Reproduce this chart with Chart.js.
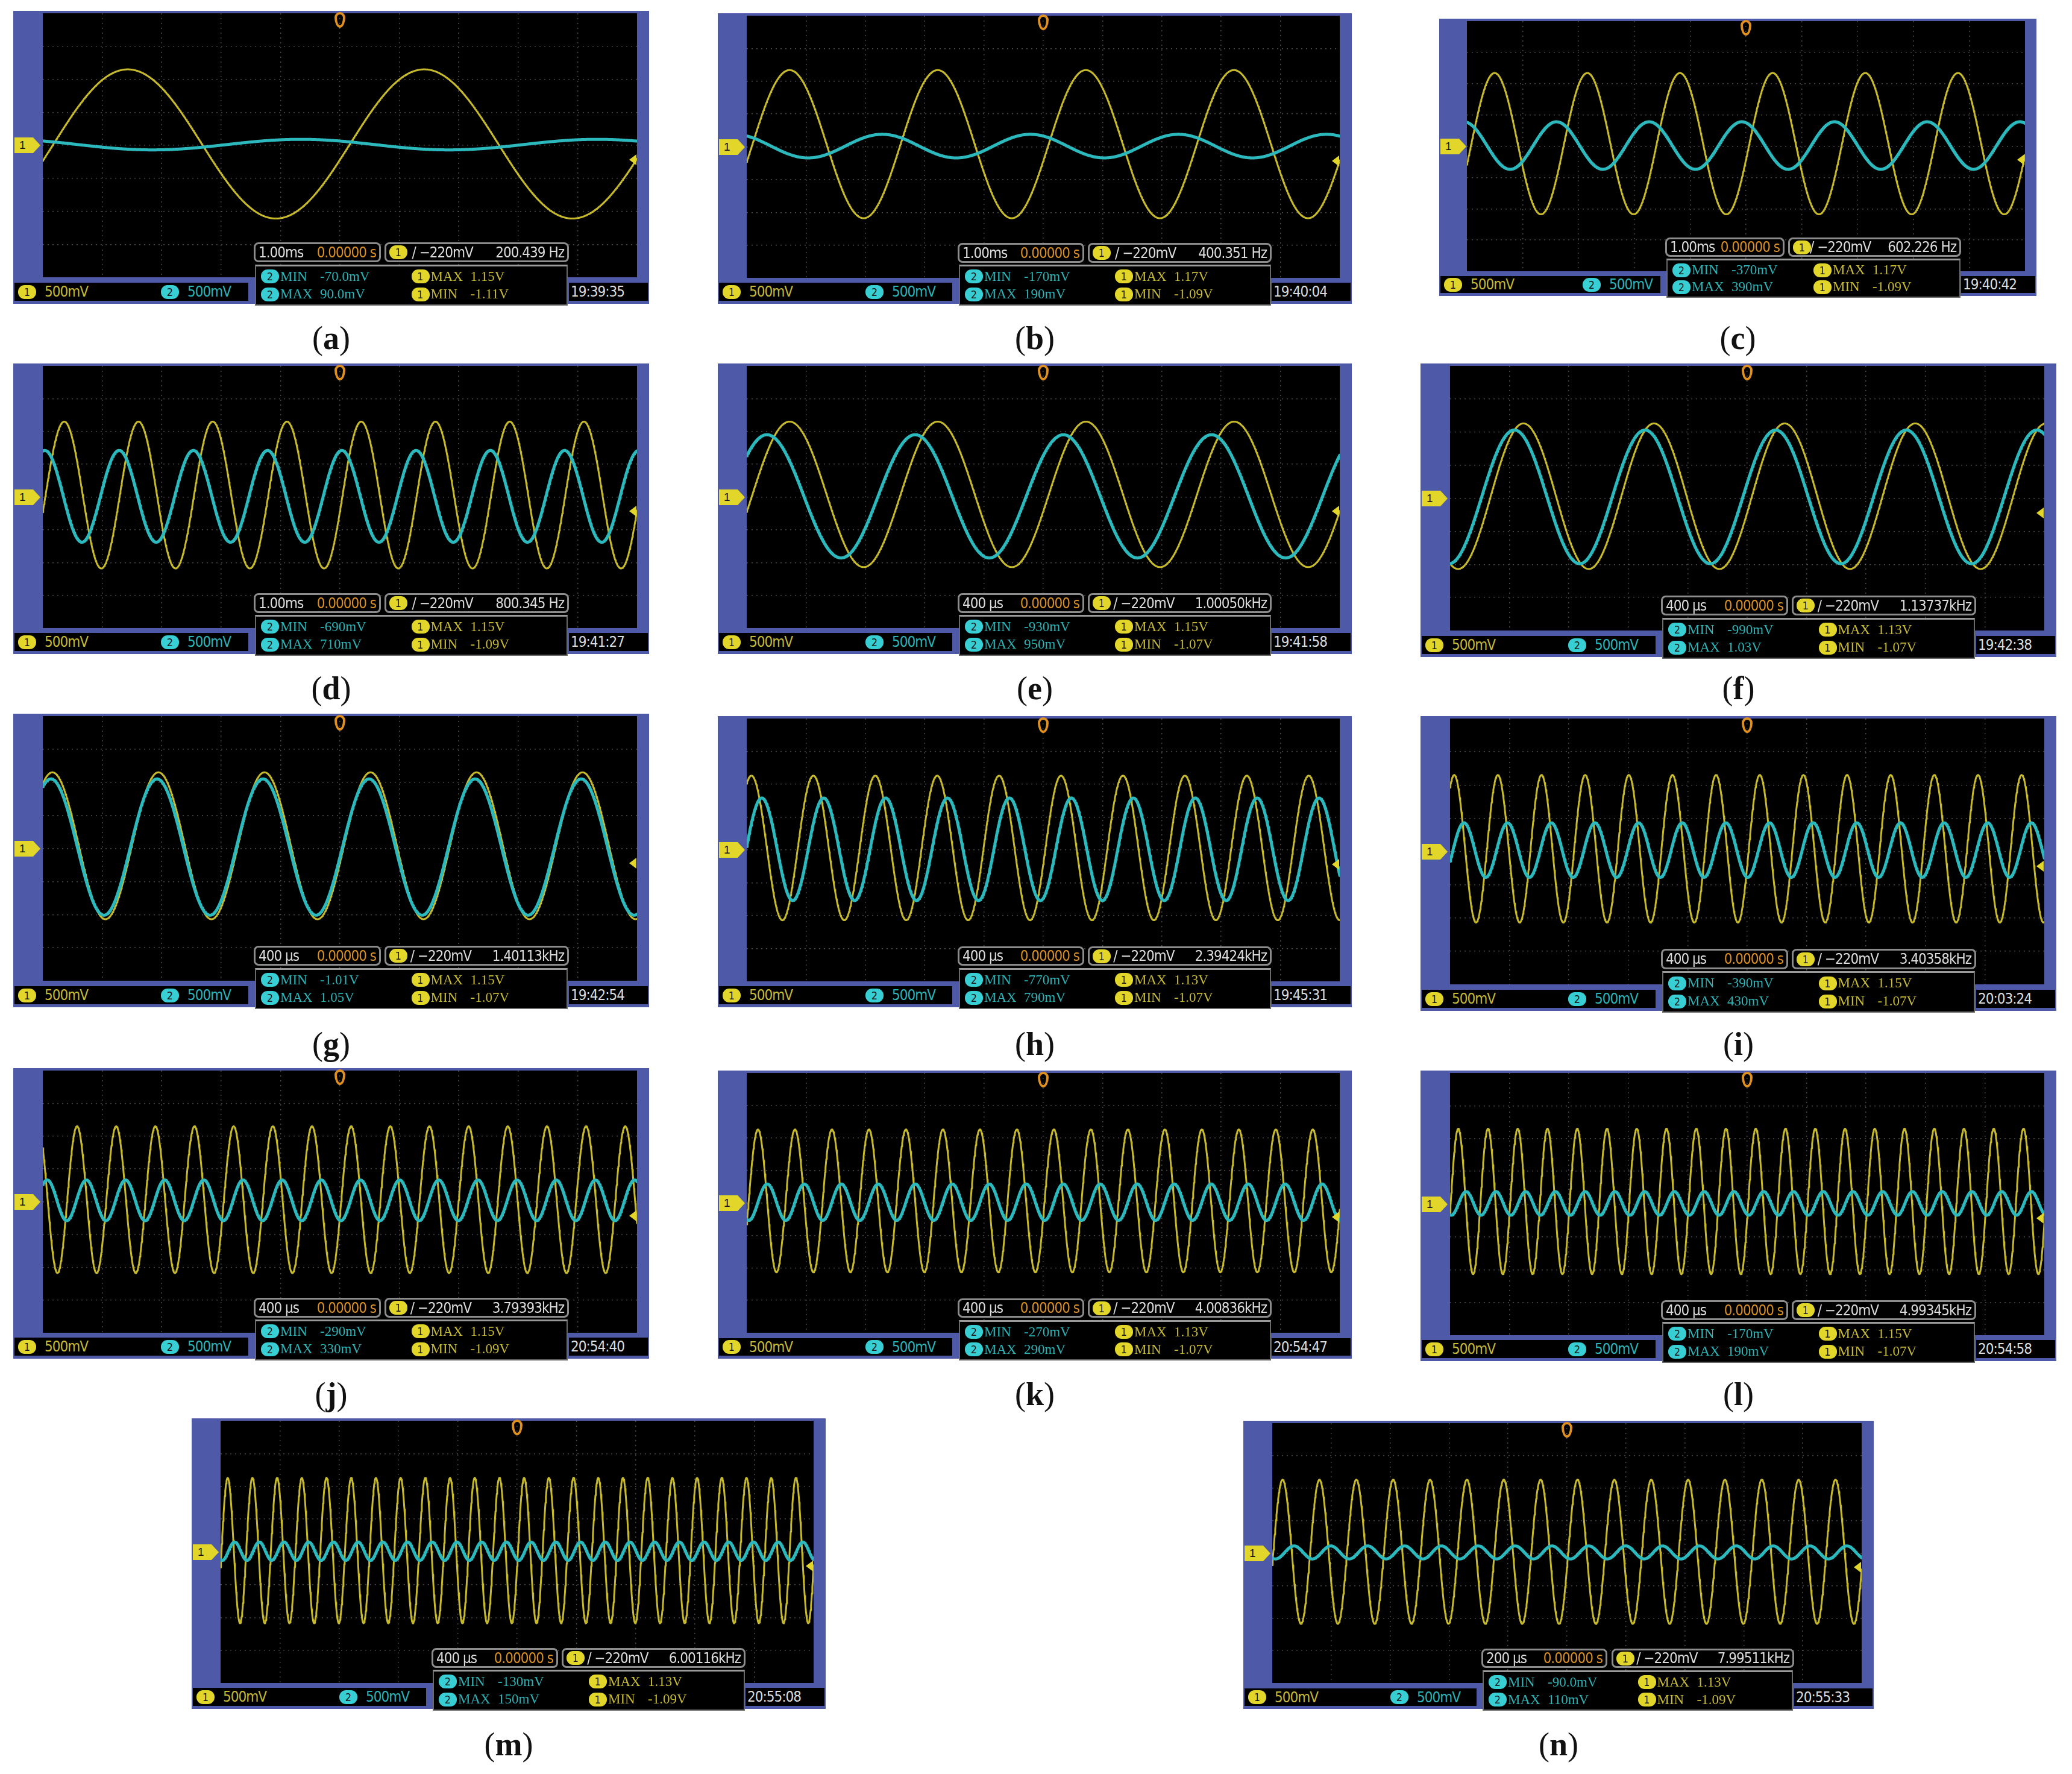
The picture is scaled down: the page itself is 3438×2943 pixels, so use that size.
<!DOCTYPE html>
<html>
<head>
<meta charset="utf-8">
<script src="https://cdn.jsdelivr.net/npm/chart.js@4.4.1/dist/chart.umd.min.js"></script>
<style>
  body { margin: 0; background: #fff; width: 3438px; height: 2943px; position: relative; overflow: hidden; }
  .panel { position: absolute; background: #4E5AA8; }
  .screen { position: absolute; background: #000; overflow: hidden; }
  .box { position: absolute; background: #000; box-sizing: border-box; display: flex; align-items: center;
         font-family: 'Liberation Sans Narrow', 'DejaVu Sans Condensed', 'Arial Narrow', sans-serif; font-size: 24px; color: #dcdcdc; white-space: nowrap; letter-spacing: -1px; }
  .top { border: 3px solid #8c8c8c; border-radius: 8px; padding: 0 5px; justify-content: space-between; }
  .lower { border: 2px solid #6a6a6a; border-top: 3px solid #9a9a9a; padding: 2px 8px; display: grid;
           grid-template-columns: 1fr 1fr; grid-template-rows: 1fr 1fr; align-items: center;
           font-family: 'Liberation Serif', 'DejaVu Serif', serif; font-size: 23px; letter-spacing: 0; }
  .cell { display: flex; align-items: center; }
  .cell .k { width: 66px; margin-left: 2px; }
  .badge { display: inline-block; border-radius: 11px; width: 30px; height: 23px; line-height: 23px; text-align: center;
           color: #1a1a1a; font-size: 18px; letter-spacing: 0; font-family: 'Liberation Sans Narrow', 'DejaVu Sans Condensed', sans-serif; }
  .by { background: #E3D62A; }
  .bc { background: #38CFD4; }
  .ty { color: #C6B934; }
  .tc { color: #2BB3B6; }
  .orange { color: #D98F22; }
  .caption { position: absolute; font-family: 'Liberation Serif', 'DejaVu Serif', serif; font-size: 54px; color: #111;
             transform: translate(-50%, -50%); white-space: nowrap; }
  .gnd { position: absolute; background: #E3D62A; color: #111; font-family: 'Liberation Sans Narrow', sans-serif;
         font-size: 19px; line-height: 26px; text-align: left; padding-left: 8px; box-sizing: border-box;
         clip-path: polygon(0 0, 72% 0, 100% 50%, 72% 100%, 0 100%); }
  .trg { position: absolute; background: #E3D62A; clip-path: polygon(0 50%, 100% 0, 100% 100%); }
  .tmark { position: absolute; width: 18px; height: 26px; border: 4px solid #E0901F; border-radius: 50% 50% 50% 50% / 35% 35% 65% 65%; box-sizing: border-box; }
</style>
</head>
<body>
<script>
// ---- measured values read from the fourteen scope screens ----
const panelIds = ['a', 'b', 'c', 'd', 'e', 'f', 'g', 'h', 'i', 'j', 'k', 'l', 'm', 'n'];
const timeDivText = ['1.00ms', '1.00ms', '1.00ms', '1.00ms', '400 µs', '400 µs', '400 µs', '400 µs', '400 µs', '400 µs', '400 µs', '400 µs', '400 µs', '200 µs'];
const secPerDiv = [1e-3, 1e-3, 1e-3, 1e-3, 4e-4, 4e-4, 4e-4, 4e-4, 4e-4, 4e-4, 4e-4, 4e-4, 4e-4, 2e-4];
const freqText = ['200.439 Hz', '400.351 Hz', '602.226 Hz', '800.345 Hz', '1.00050kHz', '1.13737kHz', '1.40113kHz',
                  '2.39424kHz', '3.40358kHz', '3.79393kHz', '4.00836kHz', '4.99345kHz', '6.00116kHz', '7.99511kHz'];
const freqHz = [200.439, 400.351, 602.226, 800.345, 1000.50, 1137.37, 1401.13, 2394.24, 3403.58, 3793.93, 4008.36, 4993.45, 6001.16, 7995.11];
const ch1Max = [1.15, 1.17, 1.17, 1.15, 1.15, 1.13, 1.15, 1.13, 1.15, 1.15, 1.13, 1.15, 1.13, 1.13];
const ch1Min = [-1.11, -1.09, -1.09, -1.09, -1.07, -1.07, -1.07, -1.07, -1.07, -1.09, -1.07, -1.07, -1.09, -1.09];
const ch2Min = [-0.070, -0.170, -0.370, -0.690, -0.930, -0.990, -1.01, -0.770, -0.390, -0.290, -0.270, -0.170, -0.130, -0.090];
const ch2Max = [0.090, 0.190, 0.390, 0.710, 0.950, 1.03, 1.05, 0.790, 0.430, 0.330, 0.290, 0.190, 0.150, 0.110];
// phase of channel 2 relative to channel 1 (degrees, + = leading)
const ch2LeadDeg = [150, 135, 120, 94, 55, 25, 5, -60, -80, -85, -90, -95, -100, -110];
const clockText = ['19:39:35', '19:40:04', '19:40:42', '19:41:27', '19:41:58', '19:42:38', '19:42:54',
                   '19:45:31', '20:03:24', '20:54:40', '20:54:47', '20:54:58', '20:55:08', '20:55:33'];
const triggerLevel = -0.22;   // V, rising edge on channel 1
const voltsPerDiv = 0.5;

// ---- page layout (px) ----
const panelX = [22, 1191, 2388, 22, 1191, 2357, 22, 1191, 2357, 22, 1191, 2357, 318, 2063];
const panelY = [18, 22, 31, 603, 603, 603, 1184, 1188, 1188, 1772, 1776, 1776, 2353, 2357];
const panelW = [1055, 1052, 991, 1055, 1052, 1055, 1055, 1052, 1055, 1055, 1052, 1055, 1052, 1046];
const panelH = [486, 482, 460, 482, 482, 487, 487, 483, 489, 482, 478, 482, 482, 478];
const captionY = [561, 561, 561, 1142, 1142, 1142, 1732, 1732, 1732, 2313, 2313, 2313, 2894, 2894];

const YELLOW = '#C6B92C';
const CYAN = '#2CB9BD';
const GRID = 'rgba(140,140,140,0.5)';

function fmtVolt(v) {
    if (Math.abs(v) < 1) {
        const mv = v * 1000;
        return (Math.abs(mv) < 100 ? mv.toFixed(1) : mv.toFixed(0)) + 'mV';
    }
    return v.toFixed(2) + 'V';
}

function place(el, x, y, w, h) {
    el.style.left = x + 'px';
    el.style.top = y + 'px';
    if (w !== undefined) el.style.width = w + 'px';
    if (h !== undefined) el.style.height = h + 'px';
}

function buildTraces(i) {
    const n = 1400;
    const w = 2 * Math.PI * freqHz[i];
    const a1 = (ch1Max[i] - ch1Min[i]) / 2, o1 = (ch1Max[i] + ch1Min[i]) / 2;
    const a2 = (ch2Max[i] - ch2Min[i]) / 2, o2 = (ch2Max[i] + ch2Min[i]) / 2;
    const phi = Math.asin((triggerLevel - o1) / a1);   // trigger point sits at screen centre
    const lead = ch2LeadDeg[i] * Math.PI / 180;
    const ch1 = [], ch2 = [];
    for (let k = 0; k <= n; k++) {
        const x = -5 + 10 * k / n;
        const t = x * secPerDiv[i];
        ch1.push({ x: x, y: (o1 + a1 * Math.sin(w * t + phi)) / voltsPerDiv });
        ch2.push({ x: x, y: (o2 + a2 * Math.sin(w * t + phi + lead)) / voltsPerDiv });
    }
    return { ch1, ch2 };
}

function gridColor(ctx) {
    const v = ctx.tick ? ctx.tick.value : 0;
    return (Math.abs(v) === 5 || Math.abs(v) === 4 && ctx.scale.axis === 'y') ? 'rgba(0,0,0,0)' : GRID;
}

function buildPanel(i) {
    const W = panelW[i], H = panelH[i];
    const panel = document.createElement('div');
    panel.className = 'panel';
    place(panel, panelX[i], panelY[i], W, H);
    document.body.appendChild(panel);

    // scope screen
    const sx = Math.round(0.046 * W), sy = Math.round(0.008 * H);
    const sw = Math.round(0.981 * W) - sx, sh = Math.round(0.91 * H) - sy;
    const screen = document.createElement('div');
    screen.className = 'screen';
    place(screen, sx, sy, sw, sh);
    panel.appendChild(screen);
    const canvas = document.createElement('canvas');
    canvas.width = sw;
    canvas.height = sh;
    screen.appendChild(canvas);

    const tr = buildTraces(i);
    const chart = new Chart(canvas, {
        type: 'line',
        data: {
            datasets: [
                { data: tr.ch2, borderColor: CYAN, borderWidth: 5, order: 0 },
                { data: tr.ch1, borderColor: YELLOW, borderWidth: 3, order: 1 }
            ]
        },
        options: {
            responsive: false,
            animation: false,
            devicePixelRatio: 1,
            layout: { padding: 0 },
            elements: { point: { radius: 0 }, line: { tension: 0, borderJoinStyle: 'round', borderCapStyle: 'round' } },
            plugins: { legend: { display: false }, tooltip: { enabled: false } },
            scales: {
                x: {
                    type: 'linear', min: -5, max: 5,
                    ticks: { display: false, stepSize: 1 },
                    grid: { color: gridColor, lineWidth: 1.5, drawTicks: false },
                    border: { display: false, dash: [2, 6] },
                    afterFit: s => { s.height = 0; }
                },
                y: {
                    type: 'linear', min: -4, max: 4,
                    ticks: { display: false, stepSize: 1 },
                    grid: { color: gridColor, lineWidth: 1.5, drawTicks: false },
                    border: { display: false, dash: [2, 6] },
                    afterFit: s => { s.width = 0; }
                }
            }
        }
    });

    // markers tied to the chart's own y scale
    const yZero = sy + chart.scales.y.getPixelForValue(0);
    const yTrig = sy + chart.scales.y.getPixelForValue(triggerLevel / voltsPerDiv);
    const gnd = document.createElement('div');
    gnd.className = 'gnd';
    gnd.textContent = '1';
    place(gnd, 2, Math.round(yZero - 13), 43, 26);
    panel.appendChild(gnd);
    const trg = document.createElement('div');
    trg.className = 'trg';
    place(trg, sx + sw - 13, Math.round(yTrig - 9), 12, 18);
    panel.appendChild(trg);
    const tm = document.createElement('div');
    tm.className = 'tmark';
    place(tm, Math.round(sx + chart.scales.x.getPixelForValue(0) - 9), 2);
    panel.appendChild(tm);

    // bottom bar: channel scales
    const barY = Math.round(0.928 * H), barH = Math.round(0.99 * H) - barY;
    const left = document.createElement('div');
    left.className = 'box';
    place(left, 2, barY, Math.round(0.368 * W), barH);
    left.innerHTML = '<span class="badge by" style="margin-left:6px">1</span><span class="ty" style="margin-left:14px">500mV</span>' +
        '<span class="badge bc" style="margin-left:' + Math.round(0.115 * W) + 'px">2</span><span class="tc" style="margin-left:14px">500mV</span>';
    panel.appendChild(left);

    const clock = document.createElement('div');
    clock.className = 'box';
    place(clock, Math.round(0.874 * W), barY, W - Math.round(0.874 * W) - 2, barH);
    clock.innerHTML = '<span style="margin-left:3px">' + clockText[i] + '</span>';
    panel.appendChild(clock);

    // timebase / trigger readouts
    const topY = Math.round(0.79 * H), topH = Math.round(0.858 * H) - topY;
    const t1 = document.createElement('div');
    t1.className = 'box top';
    place(t1, Math.round(0.378 * W), topY, Math.round(0.2 * W), topH);
    t1.innerHTML = '<span>' + timeDivText[i] + '</span><span class="orange">0.00000 s</span>';
    panel.appendChild(t1);

    const t2 = document.createElement('div');
    t2.className = 'box top';
    place(t2, Math.round(0.584 * W), topY, Math.round(0.29 * W), topH);
    t2.innerHTML = '<span class="badge by">1</span><span style="margin-left:-30px">/ −220mV</span><span>' + freqText[i] + '</span>';
    panel.appendChild(t2);

    // measurement table
    const lowY = Math.round(0.866 * H);
    const low = document.createElement('div');
    low.className = 'box lower';
    place(low, Math.round(0.38 * W), lowY, Math.round(0.492 * W), H + 3 - lowY);
    low.innerHTML =
        '<div class="cell tc"><span class="badge bc">2</span><span class="k">MIN</span><span>' + fmtVolt(ch2Min[i]) + '</span></div>' +
        '<div class="cell ty"><span class="badge by">1</span><span class="k">MAX</span><span>' + fmtVolt(ch1Max[i]) + '</span></div>' +
        '<div class="cell tc"><span class="badge bc">2</span><span class="k">MAX</span><span>' + fmtVolt(ch2Max[i]) + '</span></div>' +
        '<div class="cell ty"><span class="badge by">1</span><span class="k">MIN</span><span>' + fmtVolt(ch1Min[i]) + '</span></div>';
    panel.appendChild(low);

    const cap = document.createElement('div');
    cap.className = 'caption';
    cap.innerHTML = '(<b>' + panelIds[i] + '</b>)';
    cap.style.left = (panelX[i] + W / 2) + 'px';
    cap.style.top = captionY[i] + 'px';
    document.body.appendChild(cap);
}

panelIds.forEach((_, i) => buildPanel(i));
</script>
</body>
</html>
